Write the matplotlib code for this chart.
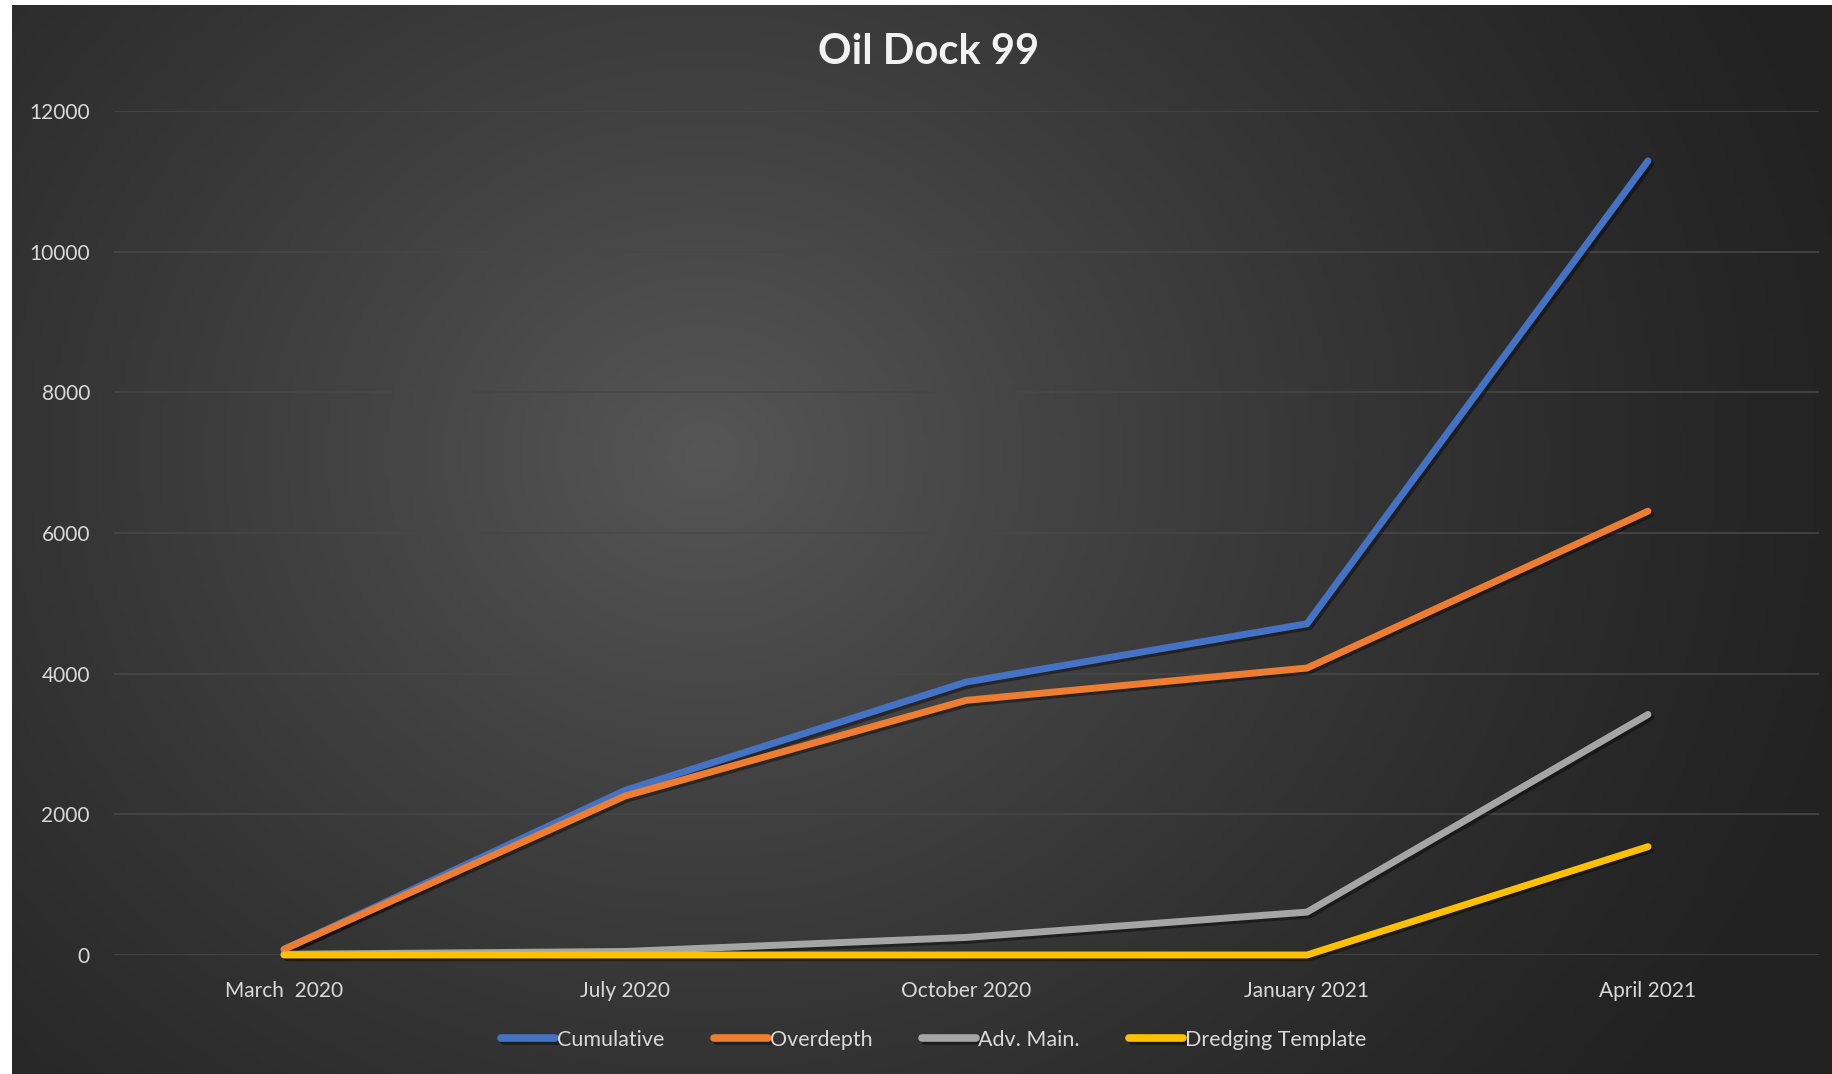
import numpy as np
import matplotlib.pyplot as plt
import matplotlib.patheffects as pe

# Values
months = ["March  2020", "July 2020", "October 2020", "January 2021", "April 2021"]
cumulative = [80, 2340, 3880, 4710, 11290]
overdepth = [80, 2260, 3620, 4080, 6310]
advMain = [10, 50, 250, 610, 3420]
dredging = [0, 0, 0, 0, 1540]

seriesNames = ["Cumulative", "Overdepth", "Adv. Main.", "Dredging Template"]
seriesColors = ["#4472C4", "#ED7D31", "#A5A5A5", "#FFC000"]

plt.rcParams['font.family'] = ['Lato', 'DejaVu Sans']

fig = plt.figure(figsize=(18.32, 10.74), dpi=100, facecolor="white")

# Dark radial gradient background (slightly inset from left/top like the reference)
bg = fig.add_axes([12/1832, 0, 1 - 12/1832, 1 - 5/1074])
bg.set_axis_off()
gx, gy = np.meshgrid(np.linspace(0, 1, 400), np.linspace(0, 1, 300))
dist = np.sqrt(((gx - 0.38) * 1.5) ** 2 + ((gy - 0.42) * 1.0) ** 2)
shade = np.clip(1 - dist / 1.0, 0, 1)
dark = np.array([0x22, 0x22, 0x22]) / 255
light = np.array([0x56, 0x56, 0x56]) / 255
img = dark + (light - dark) * shade[..., None] ** 1.3
bg.imshow(img, aspect="auto", extent=[0, 1, 0, 1], origin="upper")

ax = fig.add_axes([113.5/1832, 1 - 955/1074, (1818.5 - 113.5)/1832, (955 - 111)/1074])
ax.set_facecolor("none")

x = np.arange(len(months))
allSeries = [cumulative, overdepth, advMain, dredging]
for values, name, color in zip(allSeries, seriesNames, seriesColors):
    ax.plot(x, values, color=color, lw=5, label=name, solid_capstyle="round",
            solid_joinstyle="miter", clip_on=False,
            path_effects=[pe.SimpleLineShadow(offset=(2, -2), alpha=0.4, shadow_color="black"),
                          pe.Normal()])

ax.set_xlim(-0.5, len(months) - 0.5)
ax.set_ylim(0, 12000)
ax.set_yticks(np.arange(0, 12001, 2000))
ax.set_xticks(x)
ax.set_xticklabels(months)
ax.grid(axis="y", color="#474747", lw=1.2)
ax.set_axisbelow(True)
for s in ax.spines.values():
    s.set_visible(False)
ax.tick_params(colors="#D9D9D9", labelsize=15, length=0)
ax.tick_params(axis="y", pad=17)
ax.tick_params(axis="x", pad=19)

fig.text(929/1832, 1 - 52/1074, "Oil Dock 99", ha="center", va="center",
         fontsize=30, fontweight="bold", color="#F2F2F2")

leg = fig.legend(loc="center", bbox_to_anchor=(934/1832, 1 - 1040/1074), ncol=4,
                 frameon=False, fontsize=15.5, handlelength=2.5, handletextpad=0.1,
                 columnspacing=2.3)
for t in leg.get_texts():
    t.set_color("#D9D9D9")
for h in leg.get_lines():
    h.set_linewidth(5.5)
    h.set_solid_capstyle("round")

fig.savefig("out.png", dpi=100, facecolor=fig.get_facecolor())
